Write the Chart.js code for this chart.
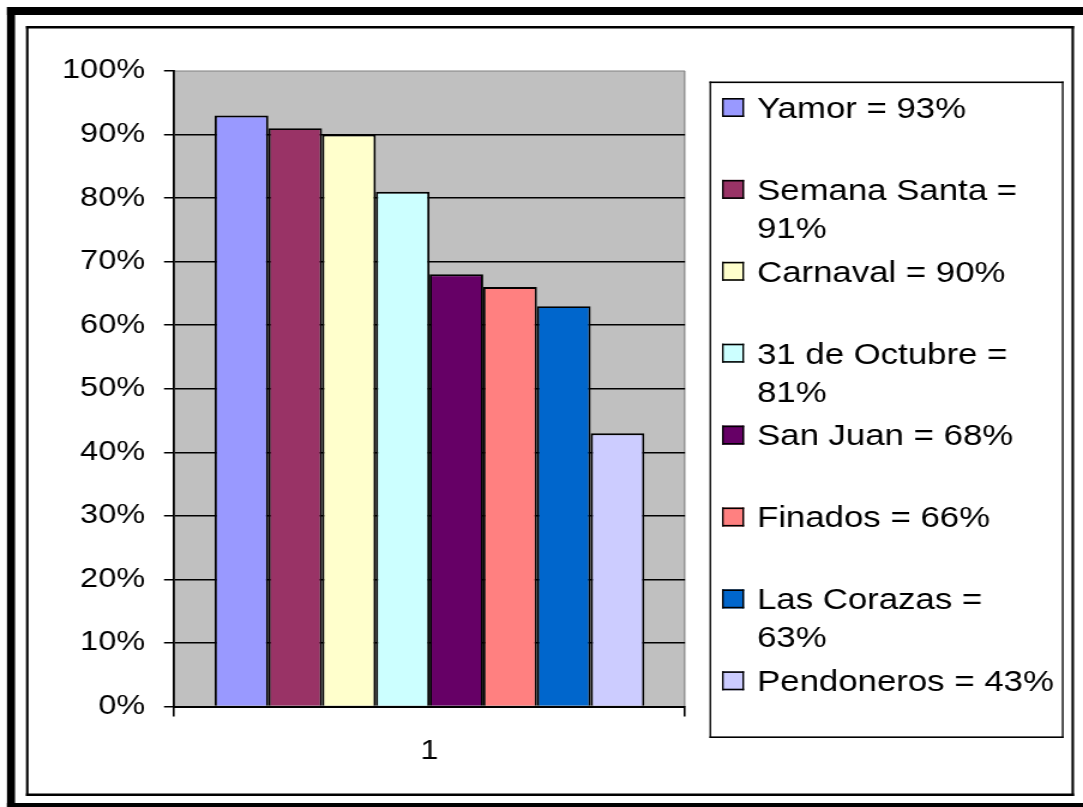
<!DOCTYPE html>
<html>
<head>
<meta charset="utf-8">
<script src="https://cdn.jsdelivr.net/npm/chart.js@4.4.1/dist/chart.umd.min.js"></script>
<style>
  html, body { margin: 0; padding: 0; background: #fff; overflow: hidden; }
  #wrap { width: 903px; height: 807px; transform: scaleX(1.19934); transform-origin: 0 0; }
  #c { display: block; width: 903px; height: 807px; }
</style>
</head>
<body>
<div id="wrap"><canvas id="c" width="903" height="807"></canvas></div>
<script>
// Survey results: share of people who know each festival
const categories = ['1'];
const festivals = ['Yamor', 'Semana Santa', 'Carnaval', '31 de Octubre', 'San Juan', 'Finados', 'Las Corazas', 'Pendoneros'];
const percentages = [93, 91, 90, 81, 68, 66, 63, 43];
const barColors = ['#9999FF', '#993366', '#FFFFCC', '#CCFFFF', '#660066', '#FF8080', '#0066CC', '#CCCCFF'];

// The canvas is drawn narrower and widened horizontally by STRETCH,
// so horizontal positions are given in page pixels and converted with X().
const W = 903, H = 807;
const STRETCH = 1083 / W;
const X = v => v / STRETCH;

const FONT = '"Liberation Sans", Arial, Helvetica, sans-serif';

// Rectangle outline with equal thickness on screen in both directions
function frame(ctx, x0, y0, x1, y1, t, color) {
  ctx.fillStyle = color;
  ctx.fillRect(X(x0), y0, X(x1 - x0), t);
  ctx.fillRect(X(x0), y1 - t, X(x1 - x0), t);
  ctx.fillRect(X(x0), y0, X(t), y1 - y0);
  ctx.fillRect(X(x1 - t), y0, X(t), y1 - y0);
}

const backgroundPlugin = {
  id: 'pageBackground',
  beforeDraw(chart) {
    const ctx = chart.ctx, a = chart.chartArea;
    ctx.save();
    ctx.fillStyle = '#fff';
    ctx.fillRect(0, 0, chart.width, chart.height);
    // plot area
    ctx.fillStyle = '#C0C0C0';
    ctx.fillRect(a.left, a.top, a.right - a.left, a.bottom - a.top);
    ctx.fillStyle = '#808080';
    ctx.fillRect(a.left, a.top - 0.5, a.right - a.left, 1);
    ctx.fillRect(a.right - X(1), a.top, X(1.3), a.bottom - a.top);
    // outer heavy frame
    ctx.fillStyle = '#000';
    ctx.fillRect(X(7), 7, X(8), H);
    ctx.fillRect(X(7), 7, W, 8);
    ctx.fillRect(X(7), 803, W, 8);
    // inner chart frame
    frame(ctx, 26, 26, 1074, 796, 2.5, '#000');
    ctx.restore();
  }
};

const legendPlugin = {
  id: 'boxLegend',
  afterDraw(chart) {
    const ctx = chart.ctx;
    const size = 29;
    const textX = X(757);
    const maxW = X(301);
    ctx.save();
    ctx.fillStyle = '#fff';
    ctx.fillRect(X(710), 82, X(353), 656);
    frame(ctx, 709.5, 81.5, 1063.5, 738, 1.6, '#000');
    ctx.font = size + 'px ' + FONT;
    ctx.textAlign = 'left';
    ctx.textBaseline = 'alphabetic';
    chart.data.datasets.forEach((ds, i) => {
      const cy = 107.5 + 81.9 * i;
      // swatch
      ctx.fillStyle = ds.backgroundColor;
      ctx.fillRect(X(722), cy - 9.5, X(22), 19);
      frame(ctx, 722, cy - 9.5, 744, cy + 9.5, 1.6, '#000');
      // text, wrapped to the box width
      const words = ds.label.split(' ');
      const lines = [];
      let line = '';
      words.forEach(w => {
        const test = line ? line + ' ' + w : w;
        if (line && ctx.measureText(test).width > maxW) {
          lines.push(line);
          line = w;
        } else {
          line = test;
        }
      });
      lines.push(line);
      ctx.fillStyle = '#000';
      lines.forEach((t, k) => {
        ctx.fillText(t, textX, cy + 0.358 * size + k * 38);
      });
    });
    ctx.restore();
  }
};

const datasets = festivals.map((name, i) => ({
  label: name + ' = ' + percentages[i] + '%',
  data: [percentages[i]],
  backgroundColor: barColors[i],
  borderColor: '#000',
  borderWidth: 1.9,
  borderSkipped: 'bottom',
  categoryPercentage: 0.841,
  barPercentage: 1.0
}));

new Chart(document.getElementById('c'), {
  type: 'bar',
  data: { labels: categories, datasets },
  options: {
    responsive: false,
    animation: false,
    devicePixelRatio: 1,
    layout: { padding: { left: 0, top: 71, right: W - X(685), bottom: 0 } },
    plugins: {
      legend: { display: false },
      tooltip: { enabled: false },
      title: { display: false }
    },
    scales: {
      x: {
        offset: true,
        afterFit(scale) { scale.height = H - 706.5; },
        grid: {
          offset: true,
          drawOnChartArea: false,
          drawTicks: true,
          tickLength: 10,
          color: '#000',
          lineWidth: 1.6
        },
        border: { display: true, color: '#000', width: 2 },
        ticks: {
          color: '#000',
          font: { family: FONT, size: 27 },
          padding: 19
        }
      },
      y: {
        min: 0,
        max: 100,
        afterFit(scale) { scale.width = X(174); },
        grid: {
          drawTicks: true,
          tickLength: X(10),
          color: ctx => (ctx.tick && ctx.tick.value === 100) ? 'rgba(0,0,0,0)' : '#000',
          tickColor: '#000',
          lineWidth: 1.5
        },
        border: { display: true, color: '#000', width: 1.8 },
        ticks: {
          stepSize: 10,
          color: '#000',
          font: { family: FONT, size: 27 },
          padding: X(19),
          callback: v => v + '%'
        }
      }
    }
  },
  plugins: [backgroundPlugin, legendPlugin]
});
</script>
</body>
</html>
